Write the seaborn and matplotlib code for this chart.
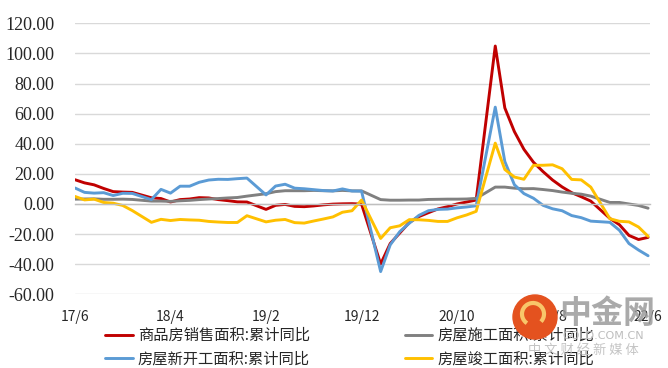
import numpy as np
import pandas as pd
import matplotlib
matplotlib.use("Agg")
import matplotlib.pyplot as plt
import seaborn as sns
from matplotlib.patches import Ellipse, Arc

# monthly cumulative YoY (%), January has no release (Jan-Feb combined)
months = pd.date_range("2017-06-01", "2022-06-01", freq="MS")
months = months[months.month != 1]

sales = [16.1, 14.0, 12.7, 10.3, 8.2, 7.9, 7.7,
         4.1, 3.6, 1.3, 2.9, 3.3, 4.2, 4.0, 2.9, 2.2, 1.4, 1.3,
         -3.6, -0.9, -0.3, -1.6, -1.8, -1.3, -0.6, -0.1, 0.1, 0.2, -0.1,
         -39.9, -26.3, -19.3, -12.3, -8.4, -5.8, -3.3, -1.8, 0.0, 1.3, 2.6,
         104.9, 63.8, 48.1, 36.3, 27.7, 21.5, 15.9, 11.3, 7.5, 4.8, 1.9,
         -9.6, -13.8, -20.9, -23.6, -22.2]
construction = [3.2, 3.3, 3.4, 3.1, 3.1, 3.2, 3.0,
                1.9, 1.9, 1.7, 2.1, 2.4, 2.9, 3.3, 3.6, 4.0, 4.3, 5.2,
                6.8, 8.2, 8.8, 8.8, 8.8, 9.0, 8.8, 8.7, 9.0, 8.7, 8.7,
                2.9, 2.5, 2.5, 2.6, 2.6, 3.0, 3.1, 3.2, 3.2, 3.3, 3.7,
                11.2, 11.2, 10.5, 10.1, 10.2, 9.6, 8.9, 7.9, 7.1, 6.5, 5.2,
                1.0, 1.0, 0.0, -1.0, -2.8]
new_starts = [10.6, 7.7, 7.2, 7.5, 5.6, 7.1, 7.0,
              2.9, 9.7, 7.2, 11.8, 11.8, 14.4, 15.9, 16.4, 16.3, 16.8, 17.2,
              6.0, 11.9, 13.1, 10.5, 10.1, 9.5, 8.9, 8.6, 10.0, 8.6, 8.5,
              -44.9, -27.2, -18.4, -12.8, -7.6, -4.5, -3.6, -3.4, -2.6, -2.0, -1.2,
              64.3, 28.2, 12.8, 6.9, 3.8, -0.9, -3.2, -4.5, -7.7, -9.1, -11.4,
              -12.2, -17.5, -26.3, -30.6, -34.4]
completion = [5.0, 2.7, 3.2, 1.0, 0.5, -1.0, -4.4,
              -12.2, -10.2, -11.0, -10.3, -10.6, -10.8, -11.6, -12.0, -12.3, -12.3, -7.8,
              -11.9, -10.8, -10.3, -12.4, -12.7, -11.3, -10.0, -8.6, -5.5, -4.5, 2.6,
              -22.9, -15.8, -14.5, -10.4, -10.5, -10.9, -11.6, -11.6, -9.2, -7.3, -4.9,
              40.4, 22.9, 17.9, 16.4, 25.7, 25.7, 26.0, 23.4, 16.3, 16.0, 11.2,
              -9.8, -11.5, -11.9, -15.3, -21.5]

tick_labels = ["17/6", "18/4", "19/2", "19/12", "20/10", "21/8", "22/6"]

names = ["商品房销售面积:累计同比", "房屋施工面积:累计同比",
         "房屋新开工面积:累计同比", "房屋竣工面积:累计同比"]
colors = ["#c00000", "#808080", "#5b9bd5", "#ffc000"]
values = [sales, construction, new_starts, completion]

# month offset from 2017/06 so missing Januaries leave a gap step
x_pos = np.asarray((months.year - 2017) * 12 + months.month - 6)

sns.set_style("white")
plt.rcParams['font.family'] = ['Noto Sans CJK SC', 'DejaVu Sans']

fig = plt.figure(figsize=(6.68, 3.68), dpi=100)
ax = fig.add_axes([75 / 668, 1 - 294.3 / 368, 575 / 668, (294.3 - 23.3) / 368])

handles = []
for name, vals, color in zip(names, values, colors):
    sns.lineplot(x=x_pos, y=vals, color=color, linewidth=2.1, ax=ax, label=name)
    handles.append(ax.lines[-1])
ax.get_legend().remove()

ax.set_xlim(0, 60.2)
ax.set_ylim(-60, 120)
ax.set_yticks(np.arange(-60, 121, 20))
ax.set_yticklabels([f"{v:.2f}" for v in np.arange(-60, 121, 20)],
                   fontfamily="Liberation Serif", fontsize=13)
ax.yaxis.grid(True, color="#d9d9d9", linewidth=1)
ax.set_axisbelow(True)
ax.tick_params(axis="y", length=0, pad=15)

ax.set_xticks(np.arange(0, 61, 10))
ax.set_xticklabels(tick_labels, fontfamily="Liberation Serif", fontsize=13)
ax.tick_params(axis="x", direction="out", length=5, width=1, color="#bfbfbf", pad=71)

for s in ["left", "right", "top"]:
    ax.spines[s].set_visible(False)
ax.spines["bottom"].set_position(("data", 0))
ax.spines["bottom"].set_color("#bfbfbf")
ax.spines["bottom"].set_linewidth(1)
ax.set_xlabel("")
ax.set_ylabel("")

order = [0, 2, 1, 3]
fig.legend([handles[i] for i in order], [names[i] for i in order],
           ncol=2, loc="upper left", bbox_to_anchor=(105 / 668, 1 - 327 / 368),
           frameon=False, fontsize=11, handlelength=1.8, handletextpad=0.35,
           columnspacing=6.2, labelspacing=0.4, borderpad=0, borderaxespad=0)

# watermark
fig.add_artist(Ellipse((535 / 668, 1 - 317 / 368), 44 / 668, 44 / 368,
                       color="#e4521f", zorder=10))
fig.add_artist(Arc((533 / 668, 1 - 314 / 368), 22 / 668, 22 / 368,
                   theta1=-60, theta2=250, color="#f8c66a", lw=3, zorder=11))
fig.text(607 / 668, 1 - 314 / 368, "中金网", fontsize=23, fontweight="bold",
         color="#9b9b9b", alpha=0.85, ha="center", va="center", zorder=12)
fig.text(603 / 668, 1 - 336 / 368, "GOLD.COM.CN", fontsize=8, color="#bdbdbd",
         family="DejaVu Sans", ha="center", va="center", zorder=12)
fig.text(583 / 668, 1 - 350 / 368, "中 文 财 经 新 媒 体", fontsize=9.5,
         color="#c4c4c4", ha="center", va="center", zorder=12)

fig.savefig("out.png", dpi=100)
